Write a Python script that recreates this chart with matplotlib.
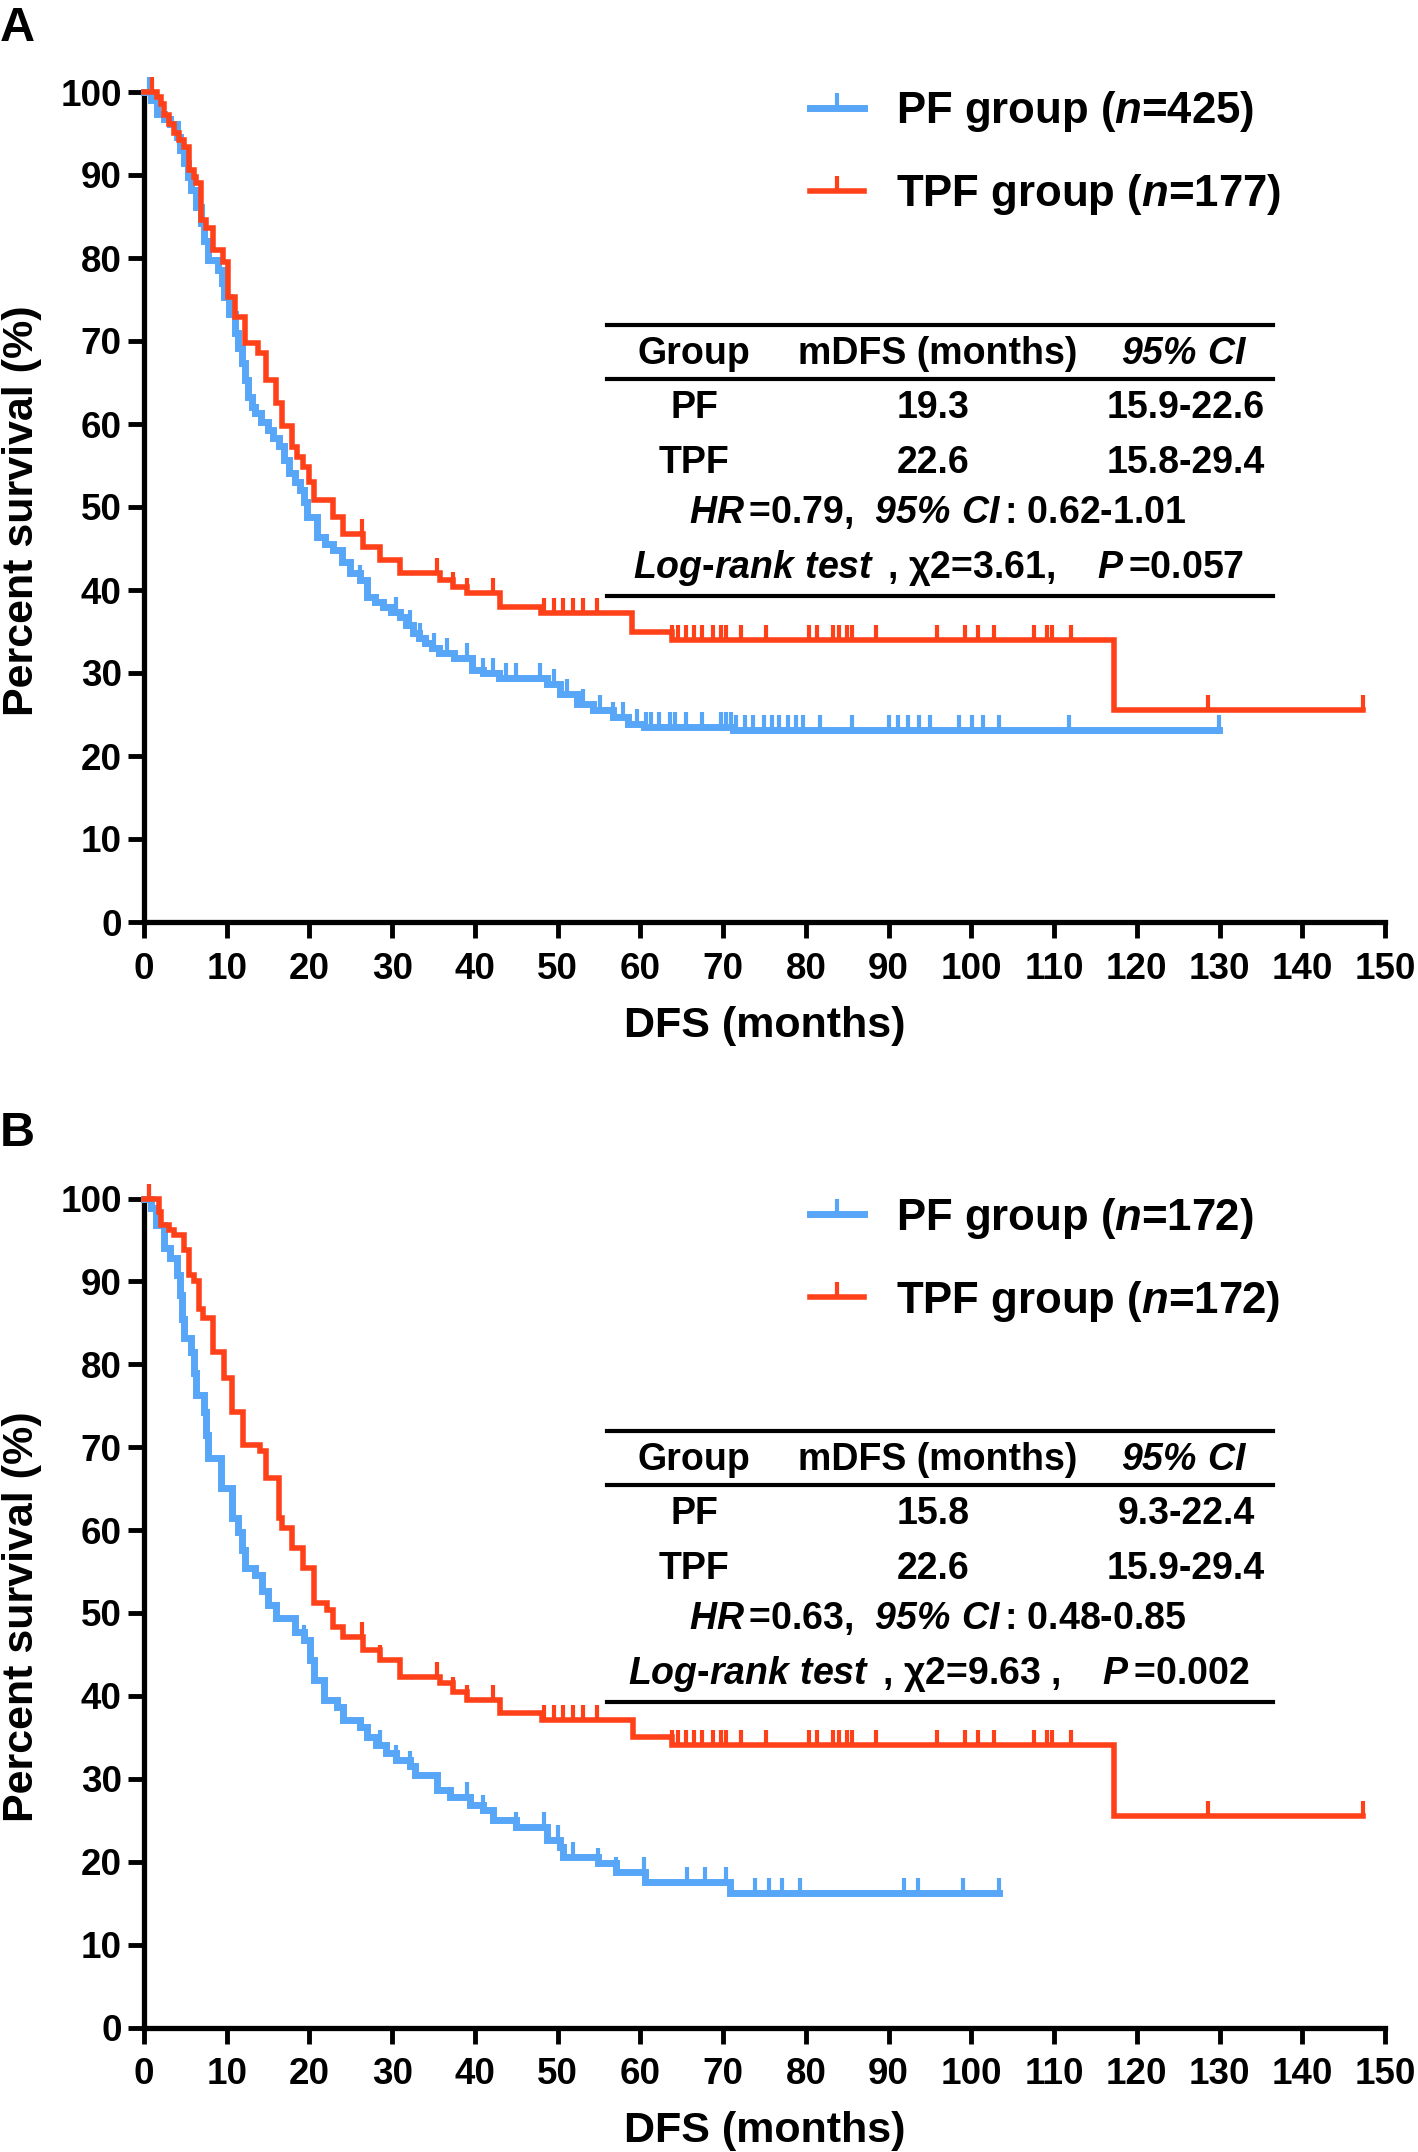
import numpy as np
import matplotlib
matplotlib.use('Agg')
import matplotlib.pyplot as plt
from matplotlib.lines import Line2D

plt.rcParams['font.family'] = ['Liberation Sans', 'DejaVu Sans']
plt.rcParams['font.weight'] = 'bold'
plt.rcParams['mathtext.fontset'] = 'custom'
plt.rcParams['mathtext.rm'] = 'Liberation Sans:italic:bold'
plt.rcParams['mathtext.bf'] = 'Liberation Sans:italic:bold'
plt.rcParams['mathtext.sf'] = 'Liberation Sans:italic:bold'
plt.rcParams['mathtext.it'] = 'Liberation Sans:italic:bold'

BLUE = '#58A6F8'
RED = '#FF4119'

# ---------------- Panel A data ----------------
A_pf_t = [0, 0.8, 1.6, 2.4, 3.2, 4.0, 4.4, 4.8, 5.3, 5.7, 6.3, 6.9, 7.3, 7.7, 9.0, 9.4, 9.7,
          10.3, 11.0, 11.4, 11.8, 12.2, 12.6, 13.0, 13.4, 14.2, 15.0, 15.6, 16.3, 16.9, 17.5,
          18.2, 18.8, 19.3, 19.7, 20.9, 21.9, 22.9, 23.9, 24.9, 26.1, 26.9, 27.9, 28.9, 29.9,
          30.9, 31.7, 32.5, 33.2, 34.0, 34.8, 35.7, 37.5, 39.7, 41.0, 42.9, 48.7, 50.3, 52.3,
          54.3, 56.7, 58.5, 60.4, 71.2]
A_pf_s = [100, 99.0, 97.4, 96.8, 96.2, 94.6, 93.0, 91.4, 89.8, 88.2, 86.2, 84.2, 82.0, 79.8, 78.6, 77.0, 75.3,
          73.2, 71.0, 69.2, 67.3, 65.3, 63.3, 62.0, 61.3, 60.3, 59.3, 58.3, 57.3, 55.7, 54.1,
          53.0, 52.0, 50.6, 48.8, 46.4, 45.6, 44.8, 43.4, 42.0, 41.2, 39.2, 38.6, 38.0, 37.4,
          36.8, 35.8, 34.8, 34.2, 33.6, 33.0, 32.4, 31.8, 30.4, 30.0, 29.4, 28.7, 27.5, 26.3,
          25.5, 24.7, 23.9, 23.5, 23.1]
A_pf_end = 129.9
A_pf_cens = [0.6, 26.1, 30.5, 32.1, 33.4, 35.0, 36.6, 39.0, 41.0, 42.2, 43.8, 45.0, 47.9, 49.5,
             51.1, 53.1, 55.1, 56.7, 57.9, 59.6, 60.65, 61.3, 62.3, 63.55, 64.2, 65.5, 67.4,
             69.7, 70.3, 71.0, 71.6, 72.6, 73.6, 74.9, 75.9, 76.8, 77.8, 78.8, 79.7, 81.7,
             85.6, 90.1, 91.1, 92.4, 93.7, 95.0, 98.5, 100.1, 101.4, 103.4, 111.8, 129.9]

A_tpf_t = [0, 1.6, 2.0, 2.4, 3.0, 3.6, 4.2, 4.8, 5.4, 6.0, 6.3, 6.9, 7.5, 8.3, 9.5, 10.2, 11.0,
           12.2, 13.8, 14.7, 15.9, 16.7, 17.9, 18.5, 19.2, 20.0, 20.6, 22.9, 24.1, 26.5, 28.5,
           30.9, 35.8, 37.4, 39.0, 43.0, 48.0, 59.0, 63.8, 117.3]
A_tpf_s = [100, 99.4, 98.6, 97.2, 96.2, 95.0, 94.2, 93.4, 90.6, 89.8, 89.0, 84.6, 83.6, 81.0, 79.5, 75.3, 72.9,
           69.8, 68.6, 65.3, 62.5, 59.7, 57.2, 56.0, 54.8, 53.0, 50.8, 48.8, 46.8, 45.2, 43.6,
           42.0, 41.2, 40.4, 39.6, 38.0, 37.2, 35.0, 34.0, 25.5]
A_tpf_end = 147.4
A_tpf_cens = [1.0, 26.3, 28.5, 35.4, 37.4, 39.0, 42.2, 43.0, 48.3, 49.5, 50.7, 51.9, 53.1, 54.7,
              63.8, 64.5, 65.5, 66.5, 67.5, 68.8, 69.7, 70.4, 72.1, 75.2, 80.4, 81.4, 83.3, 84.0,
              85.0, 85.6, 88.5, 95.9, 99.2, 100.8, 102.7, 107.6, 109.2, 109.8, 112.1, 128.6, 147.4]

# ---------------- Panel B data ----------------
B_pf_t = [0, 0.8, 1.4, 2.4, 3.2, 4.0, 4.4, 4.6, 4.8, 5.7, 6.0, 6.3, 7.3, 7.5, 7.7, 9.3, 10.6,
          11.4, 11.8, 12.2, 13.4, 14.3, 15.0, 15.9, 18.3, 19.3, 20.1, 20.5, 21.7, 23.3, 24.1,
          26.1, 26.9, 28.0, 29.3, 30.5, 32.1, 32.8, 35.4, 37.0, 39.4, 41.0, 42.2, 45.0, 48.7,
          50.3, 50.7, 54.9, 57.1, 60.6, 70.8]
B_pf_s = [100, 98.8, 96.8, 94.0, 92.8, 90.8, 88.3, 85.5, 83.2, 81.5, 79.0, 76.3, 74.3, 71.5, 68.7, 65.1, 61.5,
          59.8, 57.6, 55.4, 54.6, 52.6, 51.0, 49.4, 47.7, 46.7, 44.3, 41.9, 39.5, 38.7, 37.1,
          36.3, 35.1, 34.1, 33.1, 32.3, 31.5, 30.5, 28.6, 27.8, 26.8, 26.2, 25.0, 24.2, 22.6,
          21.8, 20.6, 19.8, 18.8, 17.6, 16.2]
B_pf_end = 103.3
B_pf_cens = [0.6, 19.3, 24.1, 28.5, 30.5, 32.1, 35.4, 39.0, 41.0, 45.0, 48.3, 50.1, 51.9, 54.9,
             57.1, 60.4, 65.6, 67.8, 70.4, 73.9, 75.5, 77.1, 79.3, 91.9, 93.5, 99.0, 103.3]

B_tpf_t = [0, 1.8, 2.0, 3.0, 3.6, 4.8, 5.4, 6.1, 6.7, 7.1, 8.3, 9.7, 10.6, 12.0, 14.0, 14.7,
           16.3, 16.7, 17.9, 19.2, 20.6, 22.1, 22.9, 24.1, 26.5, 28.5, 30.9, 35.8, 37.4, 39.0,
           43.0, 48.1, 59.1, 63.8, 117.3]
B_tpf_s = [100, 98.4, 96.8, 96.2, 95.6, 93.8, 90.8, 90.0, 86.7, 85.6, 81.5, 78.3, 74.3, 70.3, 69.5, 66.3,
           61.5, 60.2, 57.8, 55.4, 51.2, 50.4, 48.3, 47.1, 45.5, 44.3, 42.3, 41.5, 40.5, 39.5,
           37.9, 37.1, 35.1, 34.1, 25.5]
B_tpf_end = 147.4
B_tpf_cens = [0.6, 26.3, 28.5, 35.4, 37.4, 39.0, 42.2, 43.0, 48.3, 49.5, 50.7, 51.9, 53.1, 54.7,
              63.8, 64.5, 65.5, 66.5, 67.5, 68.8, 69.7, 70.4, 72.1, 75.2, 80.4, 81.4, 83.3, 84.0,
              85.0, 85.6, 88.5, 95.9, 99.2, 100.8, 102.7, 107.6, 109.2, 109.8, 112.1, 128.6, 147.4]

# ---------------- Text data ----------------
panel_letters = ['A', 'B']
n_pf = [425, 172]
n_tpf = [177, 172]
groups = ['PF', 'TPF']
mdfs = [['19.3', '22.6'], ['15.8', '22.6']]
mdfs_ci = [['15.9-22.6', '15.8-29.4'], ['9.3-22.4', '15.9-29.4']]
hr = ['0.79', '0.63']
hr_ci = ['0.62-1.01', '0.48-0.85']
chi2 = ['3.61,', '9.63 ,']
pval = ['0.057', '0.002']

xticks = list(range(0, 151, 10))
yticks = list(range(0, 101, 10))

W, H = 1418, 2152
fig = plt.figure(figsize=(W / 100, H / 100), dpi=100)
axA = fig.add_axes([144 / W, 1 - 922 / H, 1241 / W, 830 / H])
axB = fig.add_axes([144 / W, 1 - 2027.5 / H, 1241 / W, 829 / H])

LW_PF, LW_TPF = 5.0, 4.0
MS, MEW = 11, 3


def km(ax, t, s, t_end, cens, color, lw):
    t = np.asarray(t, float)
    s = np.asarray(s, float)
    tt = np.append(t, t_end)
    ss = np.append(s, s[-1])
    ax.step(tt, ss, where='post', color=color, lw=lw, clip_on=False, zorder=3,
            solid_joinstyle='miter')
    c = np.asarray(cens, float)
    idx = np.searchsorted(t, c, side='right') - 1
    ax.plot(c, s[idx], linestyle='none', marker=2, ms=MS, mew=MEW, color=color,
            clip_on=False, zorder=3)


datasets = [
    (A_pf_t, A_pf_s, A_pf_end, A_pf_cens, A_tpf_t, A_tpf_s, A_tpf_end, A_tpf_cens),
    (B_pf_t, B_pf_s, B_pf_end, B_pf_cens, B_tpf_t, B_tpf_s, B_tpf_end, B_tpf_cens),
]

for i, ax in enumerate([axA, axB]):
    pt, ps, pe, pc, tt_, ts, te, tc = datasets[i]
    km(ax, pt, ps, pe, pc, BLUE, LW_PF)
    km(ax, tt_, ts, te, tc, RED, LW_TPF)

    ax.set_xlim(0, 150)
    ax.set_ylim(0, 100)
    for sp in ['top', 'right']:
        ax.spines[sp].set_visible(False)
    for sp in ['left', 'bottom']:
        ax.spines[sp].set_linewidth(3.8)
        ax.spines[sp].set_color('black')
    ax.set_xticks(xticks)
    ax.set_yticks(yticks)
    ax.tick_params(axis='both', direction='out', length=11.5, width=3.5, labelsize=26.5)
    ax.tick_params(axis='x', pad=10)
    ax.tick_params(axis='y', pad=4.5)
    for lab in ax.get_xticklabels() + ax.get_yticklabels():
        lab.set_fontweight('bold')

    ax.set_xlabel('DFS (months)', fontsize=31, fontweight='bold')
    ax.set_ylabel('Percent survival (%)', fontsize=31, fontweight='bold')
    ax.xaxis.set_label_coords(0.5, -0.1013)
    ax.yaxis.set_label_coords(-0.0822, 0.496)

    # legend
    h1 = Line2D([], [], color=BLUE, lw=LW_PF, marker=2, ms=MS, mew=MEW)
    h2 = Line2D([], [], color=RED, lw=LW_TPF, marker=2, ms=MS, mew=MEW)
    leg = ax.legend([h1, h2],
                    [r'PF group ($n$=%d)' % n_pf[i], r'TPF group ($n$=%d)' % n_tpf[i]],
                    loc='upper left', bbox_to_anchor=(0.5363, 1.0036), frameon=False,
                    fontsize=31.5, handlelength=1.25, handletextpad=0.72, labelspacing=0.87,
                    borderpad=0, borderaxespad=0, numpoints=1)
    for txt in leg.get_texts():
        txt.set_fontweight('bold')

    # table
    tr = ax.transAxes
    x0, x1 = 0.3731, 0.9097
    for yy in [0.7193, 0.6542, 0.3928]:
        ax.add_line(Line2D([x0, x1], [yy, yy], transform=tr, color='black', lw=3.0,
                           clip_on=False))
    fs = 27
    kw = dict(transform=tr, ha='center', va='center', fontsize=fs, fontweight='bold')
    ax.text(0.4432, 0.6843, 'Group', **kw)
    ax.text(0.6394, 0.6843, 'mDFS (months)', **kw)
    ax.text(0.8384, 0.6843, r'$95\%\ CI$', **kw)
    for r, yy in enumerate([0.6193, 0.5534]):
        ax.text(0.4432, yy, groups[r], **kw)
        ax.text(0.6358, yy, mdfs[i][r], **kw)
        ax.text(0.8396, yy, mdfs_ci[i][r], **kw)
    ax.text(0.6395, 0.4928,
            r'$HR\,$=%s,  $95\%%\ CI\,$: %s' % (hr[i], hr_ci[i]), **kw)
    ax.text(0.6406, 0.4265,
            r'$Log$-$rank\ test\,$ , χ2=%s    $P\,$=%s' % (chi2[i], pval[i]),
            **kw)

fig.text(0.0, 1 - 41 / H, panel_letters[0], fontsize=35, fontweight='bold', ha='left', va='baseline')
fig.text(0.0, 1 - 1146 / H, panel_letters[1], fontsize=35, fontweight='bold', ha='left', va='baseline')

fig.savefig('out.png', dpi=100)
